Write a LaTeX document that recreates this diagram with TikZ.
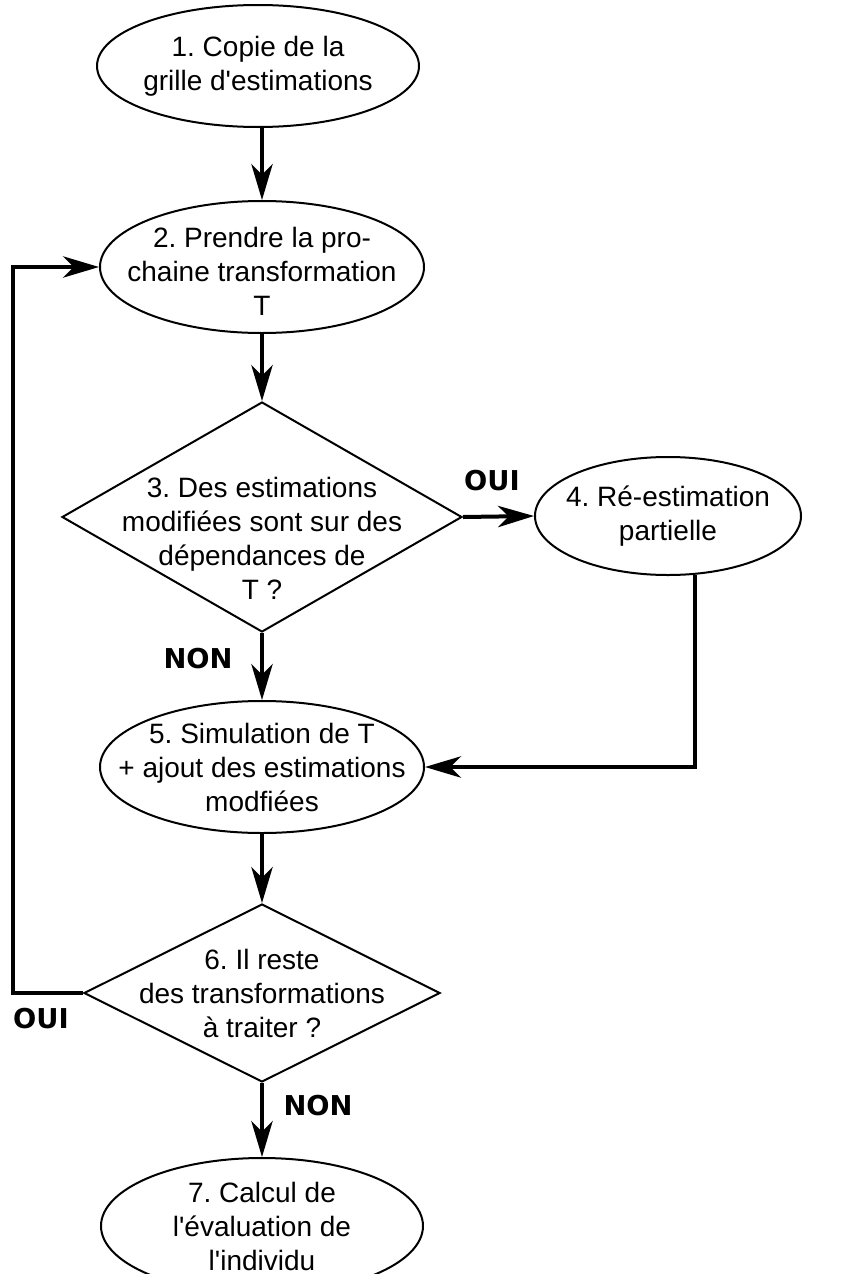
\documentclass[tikz,border=0pt]{standalone}
\usepackage{fontspec}
\setmainfont{Liberation Sans}
\newfontfamily\marquefont{DejaVu Sans}
\usetikzlibrary{arrows.meta,shapes.geometric}
\frenchspacing
\tikzset{
  ovale/.style   = {draw, ellipse, line width=1.5pt, inner sep=0pt},
  losange/.style = {draw, diamond, line width=1.5pt, inner sep=0pt},
  texte/.style   = {align=center, font=\fontsize{21}{25.5}\selectfont},
  marque/.style  = {font=\marquefont\bfseries\fontsize{20.5}{22}\selectfont},
  fleche/.style  = {-{Stealth[length=27pt, width=16pt, inset=8pt]}, line width=3pt},
}

\begin{document}
\begin{tikzpicture}[x=0.75pt, y=-0.75pt]
  \useasboundingbox (0,0) rectangle (847,1274);

  \node[ovale, minimum width=241.5pt, minimum height=91.5pt,
        label={[texte]center:{1. Copie de la\\grille d\textquotesingle estimations}}] (copie) at (258,66) {};
  \node[ovale, minimum width=243pt, minimum height=99pt,
        label={[texte, yshift=-3pt]center:{2. Prendre la pro-\\chaine transformation\\T}}] (prendre) at (262,267) {};
  \node[losange, minimum width=300pt, minimum height=172.5pt,
        label={[texte, yshift=-15.75pt]center:{3. Des estimations\\modifiées sont sur des\\dépendances de\\T ?}}] (test) at (262,517) {};
  \node[ovale, minimum width=199.5pt, minimum height=88.5pt,
        label={[texte]center:{4. Ré-estimation\\partielle}}] (reest) at (668,516) {};
  \node[ovale, minimum width=243pt, minimum height=99pt,
        label={[texte]center:{5. Simulation de T\\+ ajout des estimations\\modfiées}}] (simul) at (262,767) {};
  \node[losange, minimum width=267pt, minimum height=133.5pt,
        label={[texte]center:{6. Il reste\\des transformations\\à traiter ?}}] (reste) at (262,993) {};
  \node[ovale, minimum width=241.5pt, minimum height=102pt,
        label={[texte]center:{7. Calcul de\\l\textquotesingle évaluation de\\l\textquotesingle individu}}] (calcul) at (262,1226) {};

  % reponses
  \node[marque] (oui-a) at (492,481) {OUI};
  \node[marque] (non-a) at (198,659) {NON};
  \node[marque] (oui-b) at (41,1019) {OUI};
  \node[marque] (non-b) at (318,1106) {NON};

  \draw[fleche] (copie.south -| prendre.north) -- (prendre.north);
  \draw[fleche] (prendre) -- (test);
  \draw[fleche] (test.east) -- (reest.west);
  \draw[fleche] (test) -- (simul);
  \draw[fleche] (reest.-65) |- (simul.east);
  \draw[fleche] (simul) -- (reste);
  \draw[fleche] (reste.west) -- ++(-70,0) |- (prendre.west);
  \draw[fleche] (reste) -- (calcul);
\end{tikzpicture}
\end{document}
